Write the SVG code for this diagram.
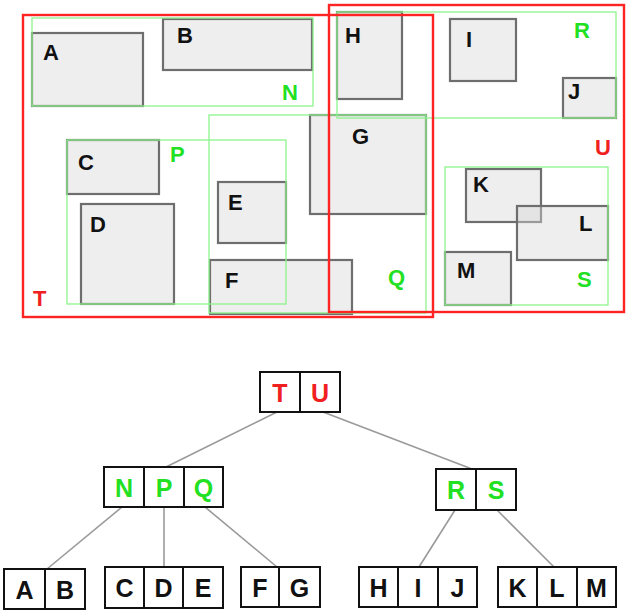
<svg xmlns="http://www.w3.org/2000/svg" width="630" height="616" viewBox="0 0 630 616">
<style>
  .obj{fill:#d6d6d6;fill-opacity:0.42;stroke:#6e6e6e;stroke-width:2.2}
  .mbr{fill:none;stroke:#8cf58c;stroke-width:1.3}
  .top{fill:none;stroke:#ff2424;stroke-width:2.4}
  .lb{font-family:"Liberation Sans",Arial,sans-serif;font-weight:bold;font-size:22px;fill:#111}
  .lg{font-family:"Liberation Sans",Arial,sans-serif;font-weight:bold;font-size:22px;fill:#22e022}
  .lr{font-family:"Liberation Sans",Arial,sans-serif;font-weight:bold;font-size:22px;fill:#f02020}
  .cell{fill:#fff;stroke:#111;stroke-width:2}
  .tt{font-family:"Liberation Sans",Arial,sans-serif;font-weight:bold;font-size:25px;text-anchor:middle;fill:#111}
  .tg{fill:#22e022}
  .tr{fill:#f02020}
  .edge{stroke:#9a9a9a;stroke-width:1.6;fill:none}
</style>
<rect width="630" height="616" fill="#fff"/>
<!-- spatial layout: data rectangles -->
<g id="rect-A"><rect class="obj" x="32" y="33" width="111" height="73"/><text class="lb" x="43" y="60">A</text></g>
<g id="rect-B"><rect class="obj" x="163" y="19" width="149" height="51"/><text class="lb" x="177" y="43">B</text></g>
<g id="rect-C"><rect class="obj" x="67" y="140" width="92" height="54"/><text class="lb" x="78" y="170">C</text></g>
<g id="rect-D"><rect class="obj" x="81" y="204" width="93" height="100"/><text class="lb" x="90" y="232">D</text></g>
<g id="rect-E"><rect class="obj" x="218" y="182" width="68" height="61"/><text class="lb" x="228" y="210">E</text></g>
<g id="rect-F"><rect class="obj" x="210" y="260" width="142" height="54"/><text class="lb" x="225" y="288">F</text></g>
<g id="rect-G"><rect class="obj" x="310" y="115" width="116" height="99"/><text class="lb" x="352" y="144">G</text></g>
<g id="rect-H"><rect class="obj" x="337" y="12" width="65" height="87"/><text class="lb" x="345" y="43">H</text></g>
<g id="rect-I"><rect class="obj" x="450" y="19" width="66" height="62"/><text class="lb" x="466" y="47">I</text></g>
<g id="rect-J"><rect class="obj" x="563" y="78" width="53" height="40"/><text class="lb" x="568" y="99">J</text></g>
<g id="rect-K"><rect class="obj" x="466" y="169" width="75" height="53"/><text class="lb" x="473" y="192">K</text></g>
<g id="rect-L"><rect class="obj" x="517" y="206" width="91" height="54"/><text class="lb" x="579" y="231">L</text></g>
<g id="rect-M"><rect class="obj" x="445" y="252" width="66" height="53"/><text class="lb" x="457" y="278">M</text></g>
<!-- spatial layout: green bounding boxes -->
<g id="mbr-N"><rect class="mbr" x="32" y="18" width="281" height="88"/><text class="lg" x="282" y="100">N</text></g>
<g id="mbr-P"><rect class="mbr" x="67" y="140" width="219" height="164"/><text class="lg" x="170" y="162">P</text></g>
<g id="mbr-Q"><rect class="mbr" x="209" y="115" width="217" height="198"/><text class="lg" x="388" y="285">Q</text></g>
<g id="mbr-R"><rect class="mbr" x="337" y="12" width="279" height="106"/><text class="lg" x="574" y="38">R</text></g>
<g id="mbr-S"><rect class="mbr" x="445" y="167" width="163" height="138"/><text class="lg" x="577" y="287">S</text></g>
<!-- spatial layout: red bounding boxes -->
<g id="mbr-T"><rect class="top" x="23" y="15" width="410" height="302"/><text class="lr" x="33" y="306">T</text></g>
<g id="mbr-U"><rect class="top" x="329" y="5" width="295" height="307"/><text class="lr" x="595" y="155">U</text></g>

<!-- tree connectors -->
<g id="connectors">
  <line class="edge" x1="277" y1="412" x2="166" y2="467"/>
  <line class="edge" x1="323" y1="412" x2="472" y2="469"/>
  <line class="edge" x1="122" y1="507" x2="47" y2="569"/>
  <line class="edge" x1="164" y1="507" x2="164" y2="567"/>
  <line class="edge" x1="205" y1="507" x2="277" y2="567"/>
  <line class="edge" x1="455" y1="510" x2="419" y2="567"/>
  <line class="edge" x1="497" y1="510" x2="554" y2="567"/>
</g>

<!-- tree nodes -->
<g id="node-TU">
  <rect class="cell" x="260" y="372" width="40" height="40"/><rect class="cell" x="300" y="372" width="40" height="40"/>
  <text class="tt tr" x="280" y="402">T</text><text class="tt tr" x="320" y="402">U</text>
</g>
<g id="node-NPQ">
  <rect class="cell" x="104" y="467" width="40" height="40"/><rect class="cell" x="144" y="467" width="40" height="40"/><rect class="cell" x="184" y="467" width="39" height="40"/>
  <text class="tt tg" x="124" y="497">N</text><text class="tt tg" x="164" y="497">P</text><text class="tt tg" x="203.5" y="497">Q</text>
</g>
<g id="node-RS">
  <rect class="cell" x="436" y="469" width="40" height="41"/><rect class="cell" x="476" y="469" width="40" height="41"/>
  <text class="tt tg" x="456" y="499">R</text><text class="tt tg" x="496" y="499">S</text>
</g>
<g id="node-AB">
  <rect class="cell" x="4" y="569" width="41" height="40"/><rect class="cell" x="45" y="569" width="40" height="40"/>
  <text class="tt" x="24.5" y="599">A</text><text class="tt" x="65" y="599">B</text>
</g>
<g id="node-CDE">
  <rect class="cell" x="105" y="567" width="39" height="41"/><rect class="cell" x="144" y="567" width="39" height="41"/><rect class="cell" x="183" y="567" width="40" height="41"/>
  <text class="tt" x="124.5" y="597">C</text><text class="tt" x="163.5" y="597">D</text><text class="tt" x="203" y="597">E</text>
</g>
<g id="node-FG">
  <rect class="cell" x="241" y="567" width="38" height="40"/><rect class="cell" x="279" y="567" width="41" height="40"/>
  <text class="tt" x="260" y="597">F</text><text class="tt" x="299.5" y="597">G</text>
</g>
<g id="node-HIJ">
  <rect class="cell" x="359" y="567" width="39" height="40"/><rect class="cell" x="398" y="567" width="40" height="40"/><rect class="cell" x="438" y="567" width="39" height="40"/>
  <text class="tt" x="378.5" y="597">H</text><text class="tt" x="418" y="597">I</text><text class="tt" x="457.5" y="597">J</text>
</g>
<g id="node-KLM">
  <rect class="cell" x="498" y="567" width="39" height="40"/><rect class="cell" x="537" y="567" width="40" height="40"/><rect class="cell" x="577" y="567" width="39" height="40"/>
  <text class="tt" x="517.5" y="597">K</text><text class="tt" x="557" y="597">L</text><text class="tt" x="596.5" y="597">M</text>
</g>
</svg>
